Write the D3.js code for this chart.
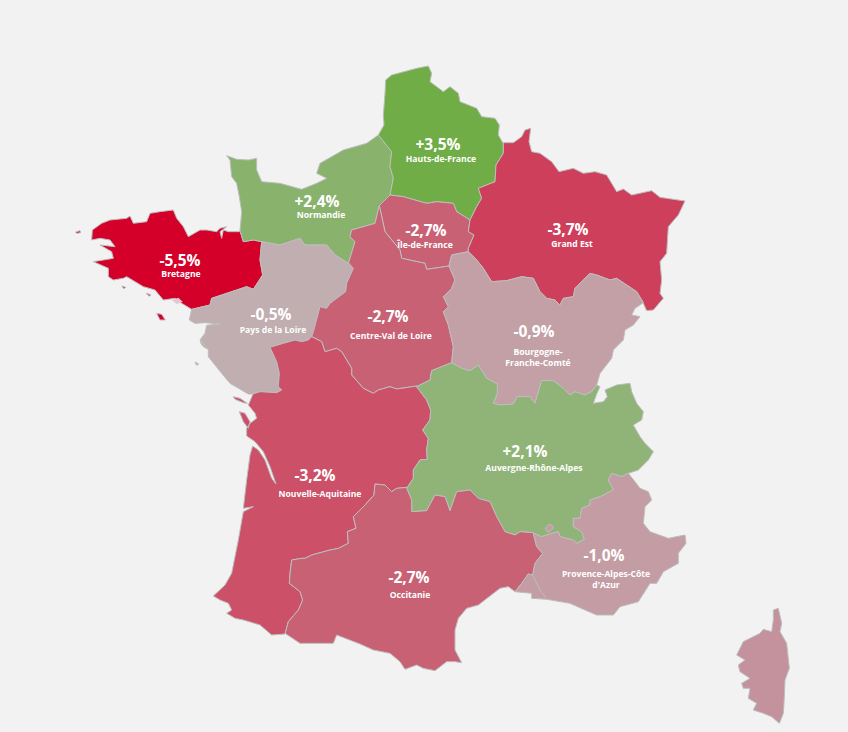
<!DOCTYPE html>
<html>
<head>
<meta charset="utf-8">
<script src="https://cdn.jsdelivr.net/npm/d3@7"></script>
<style>
  html, body { margin: 0; padding: 0; background: #f2f2f2; }
  svg { display: block; }
  text { font-family: "Open Sans", sans-serif; font-weight: 700; fill: #fff; text-anchor: middle; }
</style>
</head>
<body>
<div id="map"></div>
<script>
// values
const regions = ["Bretagne", "Normandie", "Hauts-de-France", "Île-de-France", "Grand Est", "Pays de la Loire",
  "Centre-Val de Loire", "Bourgogne-Franche-Comté", "Nouvelle-Aquitaine", "Auvergne-Rhône-Alpes", "Occitanie",
  "Provence-Alpes-Côte d'Azur", "Corse"];
const values = [-5.5, 2.4, 3.5, -2.7, -3.7, -0.5, -2.7, -0.9, -3.2, 2.1, -2.7, -1.0, -1.3];
const nameLines = [["Bretagne"], ["Normandie"], ["Hauts-de-France"], ["Île-de-France"], ["Grand Est"], ["Pays de la Loire"],
  ["Centre-Val de Loire"], ["Bourgogne-", "Franche-Comté"], ["Nouvelle-Aquitaine"], ["Auvergne-Rhône-Alpes"], ["Occitanie"],
  ["Provence-Alpes-Côte", "d'Azur"], []];

// traced outlines, a small topology: shared borders are stored once
const t = (ox, oy, pts) => pts.map(p => [ox + p[0] / 3, oy + p[1] / 3]);
const arcs = {
  bre_coast: t(60,130,[[395,538],[365,520],[345,505],[310,510],[285,480],[250,470],[200,440],[190,445],[160,450],[145,440],[145,415],[100,395],[160,385],[155,365],[120,345],[165,350],[150,330],[120,325],[95,330],[97,300],[125,280],[150,270],[200,265],[210,258],[220,280],[260,275],[270,250],[300,245],[340,240],[350,265],[370,290],[385,320],[420,300],[440,300],[470,305],[480,295],[500,290],[480,305],[485,325],[490,300],[505,305],[540,305]]),
  nor_bre: t(220,60,[[60,512],[70,545],[100,540],[125,545]]),
  bre_pays: t(60,130,[[395,538],[450,525],[455,505],[530,480],[560,470],[580,478],[608,435],[600,390],[605,335]]),
  nor_coast: t(220,60,[[60,512],[65,455],[58,410],[50,370],[35,350],[30,300],[20,287],[50,298],[85,300],[110,295],[110,330],[125,365],[180,370],[245,388],[290,370],[320,355],[290,340],[300,310],[370,270],[440,250],[475,225]]),
  hdf_nor: t(220,60,[[475,225],[515,275],[510,320],[520,355],[510,405]]),
  nor_idf: t(220,60,[[510,405],[478,437]]),
  nor_cvl: t(220,60,[[478,437],[465,490],[395,510],[390,530],[405,545],[385,610]]),
  pays_nor: t(220,60,[[125,545],[180,555],[240,535],[255,555],[320,555],[345,585],[385,610]]),
  hdf_coast: t(220,60,[[475,225],[492,195],[490,165],[495,100],[497,60],[515,45],[590,25],[625,18],[635,40],[630,65],[670,95],[690,80],[715,100],[720,125],[770,145],[785,170],[825,175],[838,195],[835,225],[848,248]]),
  ge_hdf: t(460,120,[[130,68],[130,100],[108,135],[105,185],[55,205],[65,235],[50,260],[30,300]]),
  hdf_idf: t(220,60,[[510,405],[550,410],[620,430],[650,425],[700,430],[710,455],[750,480]]),
  ge_idf: t(460,120,[[30,300],[25,335],[42,345],[25,385],[25,395]]),
  bfc_idf: t(400,250,[[205,5],[155,15],[147,48]]),
  idf_cvl: t(220,60,[[687,618],[620,628],[615,610],[545,595],[540,570],[495,515],[478,437]]),
  ge_coast: t(460,120,[[130,68],[160,68],[185,50],[195,30],[212,25],[207,65],[215,95],[240,100],[275,125],[297,155],[340,145],[370,160],[405,155],[440,165],[470,215],[490,207],[515,225],[575,212],[600,232],[675,243],[655,285],[625,320],[620,400],[600,425],[605,480],[600,520],[610,535],[580,570],[560,572],[549,548]]),
  ge_bfc: t(400,250,[[205,5],[230,30],[250,55],[275,95],[320,92],[365,80],[400,85],[420,125],[440,145],[465,150],[480,165],[490,145],[520,140],[525,115],[550,90],[570,70],[590,75],[630,90],[650,85],[710,125],[730,158]]),
  bfc_coast: t(400,250,[[730,158],[705,175],[695,195],[720,200],[700,225],[675,240],[670,270],[640,300],[635,325],[600,370],[590,405]]),
  bfc_cvl: t(400,250,[[147,48],[165,90],[155,115],[130,140],[145,170],[130,185],[145,225],[160,290],[155,338]]),
  bfc_ara: t(400,250,[[155,338],[185,355],[210,362],[235,345],[260,385],[292,402],[292,430],[280,460],[300,465],[340,462],[352,440],[390,440],[405,460],[425,392],[460,392],[490,415],[510,435],[525,425],[555,435],[575,425],[590,405]]),
  cvl_ara: t(400,250,[[155,338],[95,362],[90,390],[50,410]]),
  pays_cvl: t(180,240,[[505,68],[520,85],[500,130],[497,155],[450,190],[440,205],[420,200],[400,275],[395,290]]),
  cvl_na: t(180,240,[[395,290],[425,305],[435,335],[470,325],[485,335],[515,385],[515,405],[550,445],[580,460],[595,450],[630,440],[650,447],[711,438]]),
  pays_na: t(180,240,[[395,290],[385,300],[365,305],[345,300],[310,310],[270,322],[290,365],[298,400],[295,440],[305,450],[290,458],[240,455],[218,462]]),
  pays_coast: t(180,240,[[35,208],[28,240],[45,250],[75,248],[120,252],[80,256],[75,280],[60,300],[85,330],[85,350],[125,400],[150,430],[205,462],[218,462]]),
  na_coast: t(200,380,[[159,42],[145,75],[165,100],[170,115],[150,130],[140,145],[140,168],[165,185],[190,215],[210,260],[228,312],[215,295],[195,240],[175,210],[158,198],[150,225],[140,300],[130,385],[160,380],[130,395],[115,480],[95,580],[75,615],[40,648],[60,660],[85,670],[95,690],[80,700],[105,715],[130,720],[180,735],[215,765],[255,762]]),
  na_ara: t(200,380,[[650,20],[680,60],[692,90],[690,120],[668,150],[685,175],[680,210],[682,238],[660,240],[640,270],[640,295],[622,322]]),
  na_occ: t(200,380,[[622,322],[590,325],[575,335],[555,315],[525,312],[522,345],[495,375],[460,410],[468,445],[442,455],[445,490],[415,505],[390,510],[335,525],[315,535],[305,535],[275,540],[270,580],[268,610],[300,635],[308,660],[295,690],[265,725],[255,762]]),
  ara_occ: t(270,480,[[410,25],[425,60],[425,95],[470,92],[495,45],[525,50],[540,92],[560,35],[600,30],[625,55],[660,65],[680,110],[705,155],[735,165],[750,155],[790,158]]),
  ara_coast: t(400,250,[[590,405],[600,410],[590,432],[580,460],[610,455],[622,440],[615,420],[650,405],[690,400],[695,425],[710,460],[730,485],[725,510],[700,525],[720,560],[735,580]]).concat(t(400,440,[[760,35],[745,60],[715,90],[685,100]])),
  ara_paca: t(400,440,[[400,280],[425,290],[440,285],[475,275],[480,290],[520,300],[530,310],[553,298],[545,275],[520,260],[520,235],[540,235],[545,205],[570,195],[570,180],[600,170],[640,150],[625,120],[635,100],[665,110],[685,100]]),
  occ_paca: t(400,440,[[400,280],[405,300],[410,320],[428,340],[405,370],[398,405],[385,402],[365,430],[345,455]]),
  paca_coast: t(400,440,[[685,100],[705,125],[720,145],[745,155],[755,180],[735,200],[730,250],[750,275],[805,295],[855,285],[858,310],[835,340],[835,370],[790,395],[770,430],[750,430],[715,485],[660,500],[640,525],[590,525],[555,510],[510,490],[440,478],[395,475],[395,460],[345,455]]),
  occ_coast: t(270,480,[[735,335],[715,320],[690,325],[625,375],[590,385],[565,415],[555,450],[555,510],[575,548],[555,545],[530,545],[495,572],[460,565],[440,555],[405,568],[390,545],[360,520],[310,510],[270,492],[200,465],[190,490],[130,490],[90,490],[45,460]])
};

const rings = [
  ["bre_coast", "nor_bre", "-bre_pays"],
  ["nor_coast", "hdf_nor", "nor_idf", "nor_cvl", "-pays_nor", "-nor_bre"],
  ["hdf_coast", "ge_hdf", "-hdf_idf", "-hdf_nor"],
  ["hdf_idf", "ge_idf", "bfc_idf", "idf_cvl", "-nor_idf"],
  ["ge_coast", "-ge_bfc", "-ge_idf", "-ge_hdf"],
  ["bre_pays", "pays_nor", "pays_cvl", "pays_na", "-pays_coast"],
  ["-nor_cvl", "-idf_cvl", "bfc_cvl", "cvl_ara", "-cvl_na", "-pays_cvl"],
  ["-bfc_idf", "ge_bfc", "bfc_coast", "-bfc_ara", "-bfc_cvl"],
  ["-pays_na", "cvl_na", "na_ara", "na_occ", "-na_coast"],
  ["-cvl_ara", "bfc_ara", "ara_coast", "-ara_paca", "-ara_occ", "-na_ara"],
  ["ara_occ", "occ_paca", "occ_coast", "-na_occ"],
  ["ara_paca", "paca_coast", "-occ_paca"]
];

// islands and small pieces, by region index
const islands = [
  [0, t(60,130,[[290,550],[305,553],[316,570],[300,570]])],
  [0, t(60,130,[[258,490],[272,494],[268,499]])],
  [0, t(60,130,[[185,468],[197,472],[192,476]])],
  [0, t(60,130,[[47,306],[60,302],[62,308],[50,310]])],
  [5, t(180,240,[[60,305],[72,310],[78,325],[68,318]])],
  [5, t(180,240,[[45,366],[56,372],[50,376]])],
  [8, t(200,380,[[100,50],[120,55],[142,70],[130,68],[105,58]])],
  [8, t(200,380,[[118,95],[135,100],[150,125],[145,145],[130,125]])],
  [11, t(400,440,[[435,265],[450,252],[462,262],[445,278]])],
  [12, t(720,600,[[160,30],[175,25],[185,70],[180,95],[200,130],[208,205],[195,240],[192,310],[190,340],[178,370],[155,350],[130,340],[100,330],[110,310],[85,295],[90,265],[70,265],[65,250],[90,235],[60,215],[55,195],[75,180],[50,165],[70,125],[120,100],[130,88],[155,95],[160,60]])]
];
const rhone = t(400,440,[[398,405],[420,450],[438,475]]);
const morbihan = t(60,130,[[335,510],[355,503],[368,515],[350,522]]);

const width = 848, height = 732;
const color = d3.scaleLinear().domain([-5.5, 0, 3.5]).range(["#d40029", "#bfbfbf", "#70ad47"]);

const close = r => r.concat([r[0]]);
const ringCoords = r => close(r.flatMap(k => k[0] === "-" ? arcs[k.slice(1)].slice().reverse() : arcs[k]));
const features = regions.map((name, i) => ({
  type: "Feature",
  properties: { name, value: values[i] },
  geometry: {
    type: "MultiPolygon",
    coordinates: (rings[i] ? [[ringCoords(rings[i])]] : []).concat(islands.filter(d => d[0] === i).map(d => [close(d[1])]))
  }
}));

const svg = d3.select("#map").append("svg").attr("width", width).attr("height", height);
const pathGen = d3.geoPath(d3.geoIdentity());

svg.append("g").selectAll("path").data(features).join("path")
  .attr("d", pathGen)
  .attr("fill", d => color(d.properties.value))
  .attr("stroke", "#bdbdbd")
  .attr("stroke-width", 1)
  .attr("stroke-linejoin", "round");

svg.append("path")
  .attr("d", pathGen({ type: "LineString", coordinates: rhone }))
  .attr("fill", "none").attr("stroke", "#bdbdbd");
svg.append("path")
  .attr("d", pathGen({ type: "Polygon", coordinates: [close(morbihan)] }))
  .attr("fill", "#e8c6cc").attr("stroke", "none");

// labels
const valueLabel = v => (v > 0 ? "+" : "") + d3.format(".1f")(v).replace(".", ",").replace("−", "-") + "%";
const labelAt = [[180,266],[317,207],[438,150],[426,236],[568,235],[271,320],[388,322],[534,337],[315,481],[525,457],[409,583],[604,561]];
const nameAt = [[181,277],[321,218],[441,162],[425,248],[572,247],[273,333],[391,339],[538,355],[320,497],[534,471],[410,598],[606,577]];

const labels = svg.append("g");
labelAt.forEach((p, i) => {
  labels.append("text").attr("x", p[0]).attr("y", p[1]).attr("font-size", 15.5).text(valueLabel(values[i]));
  nameLines[i].forEach((line, j) => {
    labels.append("text").attr("x", nameAt[i][0]).attr("y", nameAt[i][1] + j * 11).attr("font-size", 8.6).text(line);
  });
});
</script>
</body>
</html>
